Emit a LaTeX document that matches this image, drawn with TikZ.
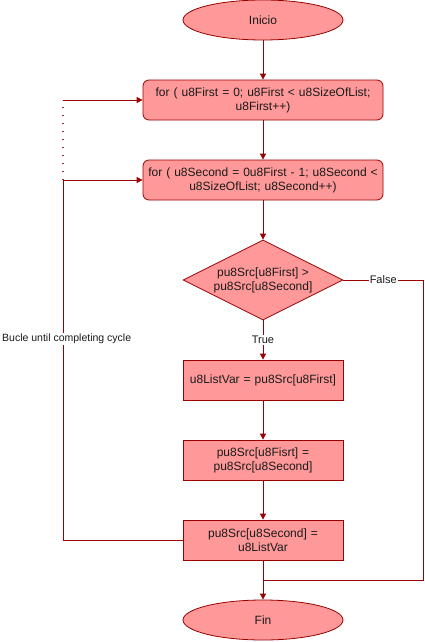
\documentclass[tikz,border=0pt]{standalone}
\usepackage{fontspec}
\setmainfont{Liberation Sans}
\usetikzlibrary{shapes.geometric,arrows.meta}
\definecolor{fillred}{HTML}{FF9999}
\definecolor{linered}{HTML}{990000}
\definecolor{dotc}{HTML}{993366}
\definecolor{txt}{HTML}{1A1A1A}
\begin{document}
\begin{tikzpicture}[x=1pt,y=-1pt,
  base/.style={draw=linered,fill=fillred,text=txt,font=\fontsize{12}{14}\selectfont,align=center,line width=0.8pt,inner sep=2pt},
  term/.style={base,ellipse,minimum width=160pt,minimum height=40pt},
  loopbox/.style={base,rectangle,rounded corners=6pt,minimum width=240pt,minimum height=40pt,text width=236pt},
  stepbox/.style={base,rectangle,minimum width=160pt,minimum height=40pt,text width=156pt},
  conn/.style={draw=linered,line width=0.8pt,-{Triangle[length=6pt,width=6pt]}},
  plain/.style={draw=linered,line width=0.8pt},
  lbl/.style={fill=white,text=txt,font=\fontsize{11}{13}\selectfont,inner sep=1pt}]
\useasboundingbox (0,0) rectangle (425,642);
\fill[white] (0,0) rectangle (425,642);
\node[term] (start) at (263,20) {Inicio};
\node[loopbox] (l1) at (263,100) {for ( u8First = 0; u8First < u8SizeOfList;\\ u8First++)};
\node[loopbox] (l2) at (263,180) {for ( u8Second = 0u8First - 1; u8Second <\\ u8SizeOfList; u8Second++)};
\node[draw=linered,fill=fillred,diamond,minimum width=160pt,minimum height=80pt,inner sep=0pt,line width=0.8pt] (d) at (263,280) {};
\node[text=txt,font=\fontsize{12}{14}\selectfont,align=center] (dt) at (263,280) {pu8Src[u8First] >\\ pu8Src[u8Second]};
\node[stepbox] (s1) at (263,380) {u8ListVar = pu8Src[u8First]};
\node[stepbox] (s2) at (263,460) {pu8Src[u8Fisrt] =\\ pu8Src[u8Second]};
\node[stepbox] (s3) at (263,540) {pu8Src[u8Second] =\\ u8ListVar};
\node[term] (fin) at (263,620) {Fin};
\coordinate (join) at (263,580);
\coordinate (fr) at (423,280);
\coordinate (fb) at (423,580);
\coordinate (lb) at (63,540);
\coordinate (lt) at (63,180);
\coordinate (lu) at (63,100);
\path[conn] (start) -- (l1);
\path[conn] (l1) -- (l2);
\path[conn] (l2) -- (d);
\path[conn] (d) -- node[lbl,pos=0.5]{True} (s1);
\path[conn] (s1) -- (s2);
\path[conn] (s2) -- (s3);
\path[conn] (s3) -- (fin);
\path[plain] (d.east) -- node[lbl,pos=0.5]{False} (fr) -- (fb) -- (join);
\path[conn] (s3.west) -- (lb) -- (lt) -- (l2.west);
\node[lbl,anchor=west,font=\fontsize{10.5}{12}\selectfont] (bl) at (1,339) {Bucle until completing cycle};
\draw[dotc,line width=1.3pt,dash pattern=on 1.3pt off 6.7pt] (lt) -- (lu);
\path[conn] (lu) -- (l1.west);
\end{tikzpicture}
\end{document}
